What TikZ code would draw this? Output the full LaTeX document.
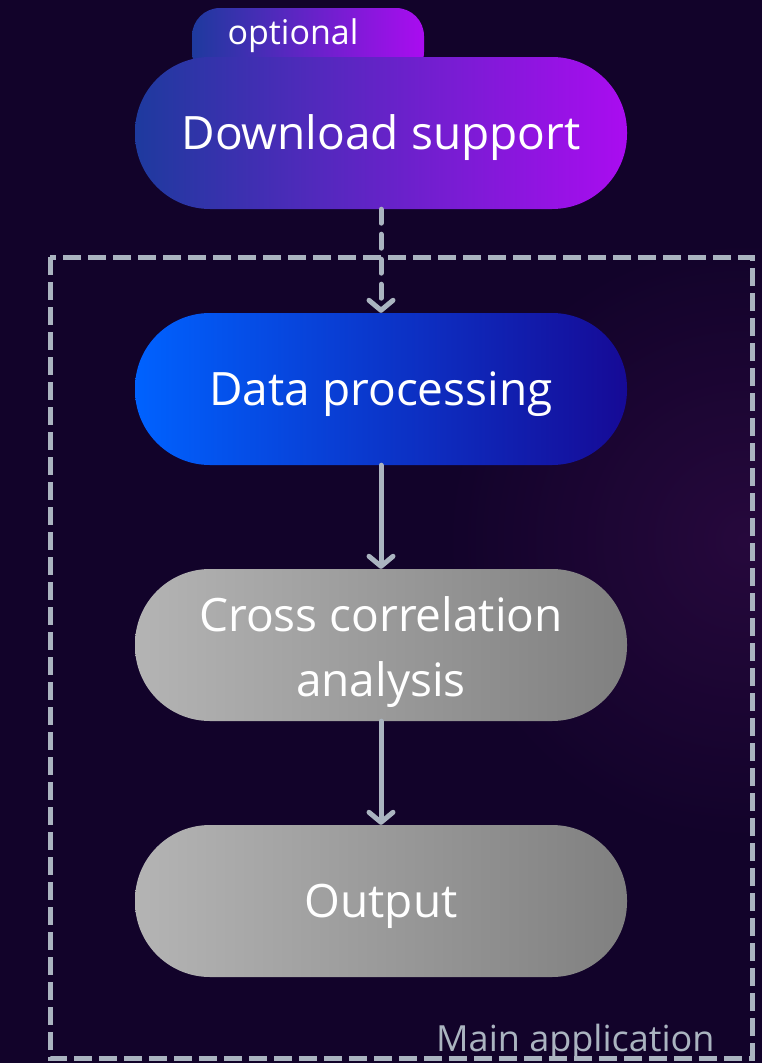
\documentclass[tikz,border=0pt]{standalone}
\usepackage{fontspec}
\setmainfont{Open Sans}
\usetikzlibrary{arrows.meta}

\definecolor{bgnavy}{RGB}{18,3,42}
\definecolor{glowpurple}{RGB}{38,8,60}
\definecolor{lineslate}{RGB}{170,180,192}
\definecolor{dlblue}{RGB}{30,58,158}
\definecolor{dlmagenta}{RGB}{170,12,240}
\definecolor{dpblue}{RGB}{0,98,255}
\definecolor{dpnavy}{RGB}{22,10,150}
\definecolor{stepgrey}{RGB}{180,180,180}
\definecolor{stepdark}{RGB}{128,128,128}

\begin{document}
\begin{tikzpicture}[x=1pt, y=-1pt,
    pill/.style={rectangle, rounded corners=75pt, minimum width=492pt,
        minimum height=152pt, inner sep=0pt, text=white, align=center,
        text height=44pt, text depth=12pt,
        font=\fontsize{46}{65}\selectfont},
    bluepill/.style={pill, left color=dpblue, right color=dpnavy},
    greypill/.style={pill, left color=stepgrey, right color=stepdark},
    flow/.style={draw=lineslate, line width=5pt, line cap=round,
        -{Straight Barb[length=10pt, width=24pt, round]}}]

    \useasboundingbox (0,0) rectangle (762,1063);
    % hintergrund
    \fill[bgnavy] (0,0) rectangle (762,1063);
    \shade[inner color=glowpurple, outer color=bgnavy] (745,540) circle (300);

    % optionaler teil
    \node (opttab) [rectangle, rounded corners=28pt, minimum width=232pt,
        minimum height=72pt, left color=dlblue, right color=dlmagenta]
        at (308,44) {};
    \node (optlabel) [text=white, font=\fontsize{34}{40}\selectfont]
        at (293,36) {optional};
    \node (download) [pill, left color=dlblue, right color=dlmagenta]
        at (381,133) {Download support};

    % hauptanwendung
    \draw[lineslate, line width=5pt, dash pattern=on 18pt off 7pt]
        (50,257) rectangle (752,1058);
    \node (mainlabel) [anchor=base east, text=lineslate,
        font=\fontsize{36}{40}\selectfont] at (718,1051) {Main application};

    \node (processing) [bluepill] at (381,389) {Data processing};
    \node (crosscorr) [greypill, text height=114pt] at (381,645)
        {Cross correlation\\analysis};
    \node (output) [greypill] at (381,901) {Output};

    % pfeile
    \draw[flow, dash pattern=on 14pt off 11pt] (download) -- (processing);
    \draw[flow] (processing) -- (crosscorr);
    \draw[flow] (crosscorr) -- (output);
\end{tikzpicture}
\end{document}
